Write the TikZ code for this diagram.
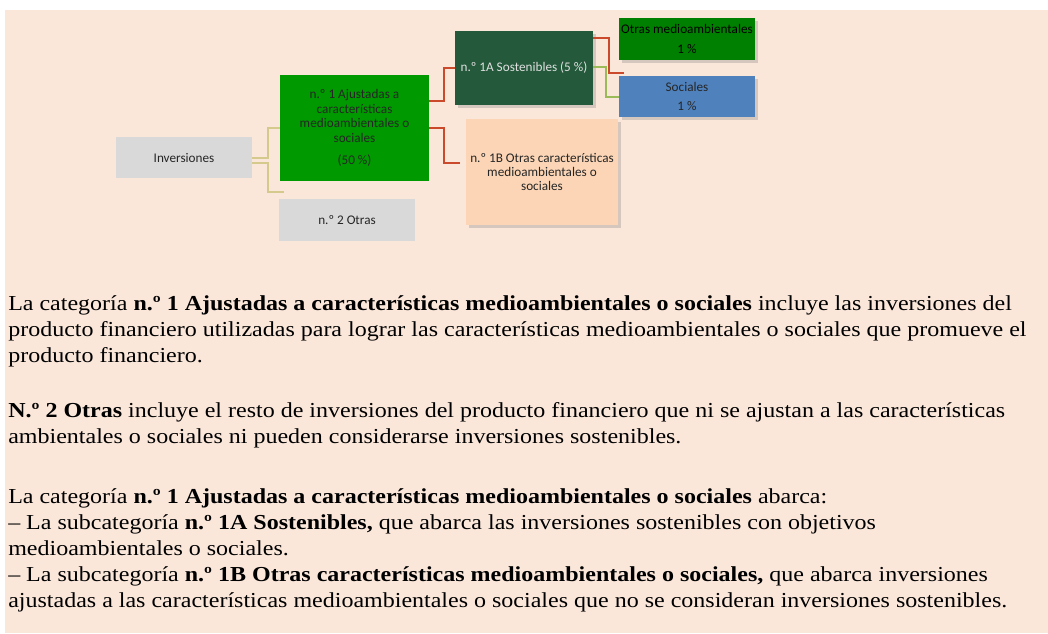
\documentclass[tikz,border=0pt]{standalone}
\usepackage{fontspec}
\setmainfont{Liberation Serif}[FakeStretch=1.125]
\newfontfamily\boxfont{Carlito}
\usetikzlibrary{shadows}

\definecolor{bgpeach}{HTML}{FBE7DA}
\definecolor{boxgray}{HTML}{D9D9D9}
\definecolor{boxtext}{HTML}{262626}
\definecolor{catgreen}{HTML}{009900}
\definecolor{sustgreen}{HTML}{245A3B}
\definecolor{otherpeach}{HTML}{FBD5B5}
\definecolor{envgreen}{HTML}{008000}
\definecolor{socblue}{HTML}{4F81BD}
\definecolor{tanline}{HTML}{D6C98C}
\definecolor{redline}{HTML}{CC4A2C}
\definecolor{olivegreen}{HTML}{9BBB59}

\begin{document}
\begin{tikzpicture}[x=0.75pt, y=0.75pt,
    cat/.style={rectangle, minimum width=102pt, minimum height=31pt, align=center, inner sep=1pt, font=\boxfont\fontsize{9.9}{10.8}\selectfont, text=boxtext},
    shade/.style={drop shadow={shadow xshift=2pt, shadow yshift=-2pt, opacity=0.3}},
    link/.style={line width=1.5pt},
    body/.style={align=left, inner sep=0pt, anchor=base west, font=\fontsize{16}{19.4}\selectfont}]

% page
\fill[bgpeach] (5,-10) rectangle (1048,-633);
\useasboundingbox (0,0) rectangle (1048,-633);

% boxes
\node[cat, fill=boxgray] (inv) at (184,-157.5) {Inversiones};
\node[cat, fill=catgreen, minimum width=111.75pt, minimum height=79.5pt] (n1) at (354.5,-128) {n.º 1 Ajustadas a\\características\\medioambientales o\\sociales\\[6pt](50~\%)};
\node[cat, fill=boxgray] (n2) at (347,-220) {n.º 2 Otras};
\node[cat, shade, fill=sustgreen, text=white!88!black, minimum width=103.5pt, minimum height=55.5pt] (n1A) at (524,-68) {n.º 1A Sostenibles (5~\%)};
\node[cat, shade, fill=otherpeach, minimum width=114pt, minimum height=79.5pt] (n1B) at (542,-172) {n.º 1B Otras características\\medioambientales o\\sociales};
\node[cat, shade, fill=envgreen, text=black, minimum height=31.5pt] (env) at (687,-39) {Otras medioambientales\\[4pt]1~\%};
\node[cat, shade, fill=socblue, minimum height=30.75pt] (soc) at (687,-96.5) {Sociales\\[4pt]1~\%};

% free ends
\coordinate (n2in) at ([xshift=3.75pt, yshift=5.5pt]n2.north west);
\coordinate (n1Bin) at ([xshift=-4.5pt, yshift=6.75pt]n1B.west);
\coordinate (envin) at ([xshift=3.75pt, yshift=-9.2pt]env.south west);

% connectors
\draw[link, tanline] (inv.east) -- ++(15.7,0) |- (n1.west);
\draw[link, tanline] ([yshift=-3.75pt]inv.east) -- ++(15.7,0) |- (n2in);
\draw[link, redline] ([yshift=20.25pt]n1.east) -- ++(15,0) |- (n1A.west);
\draw[link, redline] (n1.east) -- ++(15,0) |- (n1Bin);
\draw[link, redline] ([yshift=22.3pt]n1A.east) -- ++(15.3,0) |- (envin);
\draw[link, olivegreen] ([yshift=0.75pt]n1A.east) -- ++(12.7,0) |- (soc.west);

% text
\node[body] (para1) at (8,-362) {La categoría \textbf{n.º 1 Ajustadas a características medioambientales o sociales} incluye las inversiones del\\
producto financiero utilizadas para lograr las características medioambientales o sociales que promueve el\\
producto financiero.};
\node[body] (para2) at (8,-443) {\textbf{N.º 2 Otras} incluye el resto de inversiones del producto financiero que ni se ajustan a las características\\
ambientales o sociales ni pueden considerarse inversiones sostenibles.};
\node[body] (para3) at (8,-607) {La categoría \textbf{n.º 1 Ajustadas a características medioambientales o sociales} abarca:\\
– La subcategoría \textbf{n.º 1A Sostenibles,} que abarca las inversiones sostenibles con objetivos\\
medioambientales o sociales.\\
– La subcategoría \textbf{n.º 1B Otras características medioambientales o sociales,} que abarca inversiones\\
ajustadas a las características medioambientales o sociales que no se consideran inversiones sostenibles.};
\end{tikzpicture}
\end{document}
